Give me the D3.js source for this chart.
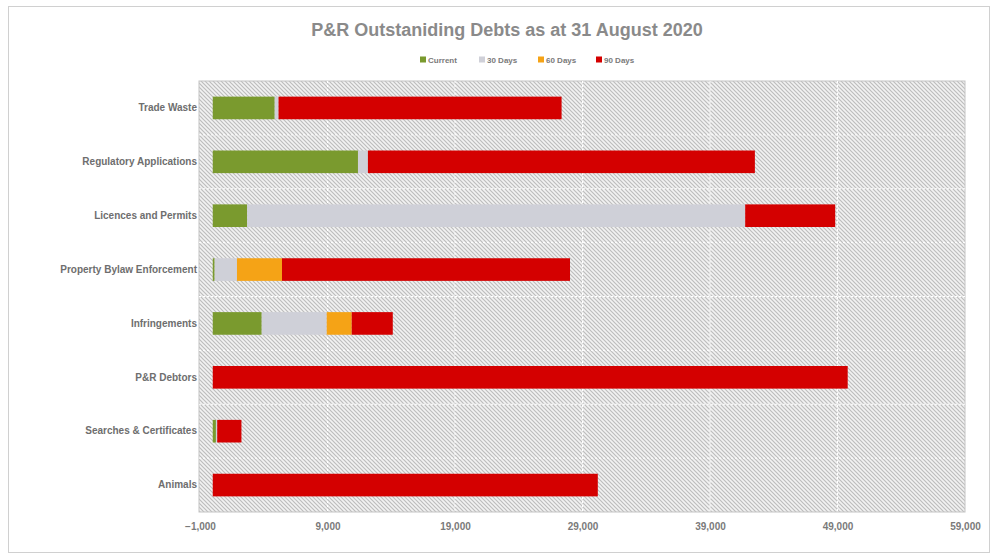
<!DOCTYPE html>
<html>
<head>
<meta charset="utf-8">
<script src="https://cdn.jsdelivr.net/npm/d3@7"></script>
<style>
  html, body { margin: 0; padding: 0; background: #fff; }
  svg { display: block; font-family: "Liberation Sans", "DejaVu Sans", sans-serif; }
</style>
</head>
<body>
<svg id="chart" width="995" height="560"></svg>
<script>
// Debtor categories, listed top to bottom
const categories = [
  "Trade Waste",
  "Regulatory Applications",
  "Licences and Permits",
  "Property Bylaw Enforcement",
  "Infringements",
  "P&R Debtors",
  "Searches & Certificates",
  "Animals"
];

// Outstanding amounts by ageing bucket
const current = [4860, 11390, 2700, 150, 3840, 0, 250, 0];
const days30  = [300, 780, 39060, 1750, 5100, 0, 100, 0];
const days60  = [0, 0, 0, 3530, 1960, 0, 0, 0];
const days90  = [22200, 30350, 7060, 22590, 3220, 49800, 1900, 30200];

const seriesNames = ["Current", "30 Days", "60 Days", "90 Days"];
const seriesColors = ["#7a9a2e", "#cfd0d8", "#f5a316", "#d40000"];

const tickValues = [-1000, 9000, 19000, 29000, 39000, 49000, 59000];
const titleText = "P&R Outstaniding Debts as at 31 August 2020";

const svg = d3.select("#chart");
const plot = { left: 199, right: 965, top: 81, bottom: 512 };

// outer chart frame
svg.append("rect")
  .attr("x", 8.5).attr("y", 6.5).attr("width", 981).attr("height", 546)
  .attr("fill", "#fff").attr("stroke", "#d0d0d0").attr("stroke-width", 1);

// hatched plot-area fill
const defs = svg.append("defs");
const pat = defs.append("pattern")
  .attr("id", "hatch").attr("patternUnits", "userSpaceOnUse")
  .attr("width", 4).attr("height", 4);
pat.append("rect").attr("width", 4).attr("height", 4).attr("fill", "#f2f2f2");
pat.append("path")
  .attr("d", "M-1,-1 L5,5 M-1,3 L1,5 M3,-1 L5,1")
  .attr("stroke", "#bdbdbd").attr("stroke-width", 1.2);

const x = d3.scaleLinear()
  .domain([tickValues[0], tickValues[tickValues.length - 1]])
  .range([plot.left + 1, plot.right]);

const y = d3.scaleBand()
  .domain(categories)
  .range([plot.top, plot.bottom])
  .paddingInner(0.58).paddingOuter(0.29);

svg.append("rect")
  .attr("x", plot.left).attr("y", plot.top)
  .attr("width", plot.right - plot.left).attr("height", plot.bottom - plot.top)
  .attr("fill", "url(#hatch)").attr("stroke", "#c4c4c4");

// gridlines
const step = (plot.bottom - plot.top) / categories.length;
svg.append("g").selectAll("line.h")
  .data(d3.range(1, categories.length))
  .join("line")
  .attr("x1", plot.left).attr("x2", plot.right)
  .attr("y1", i => plot.top + i * step).attr("y2", i => plot.top + i * step)
  .attr("stroke", "#ffffff").attr("stroke-width", 1).attr("stroke-dasharray", "2,2");

svg.append("g").selectAll("line.v")
  .data(tickValues.slice(1, -1))
  .join("line")
  .attr("x1", d => x(d)).attr("x2", d => x(d))
  .attr("y1", plot.top).attr("y2", plot.bottom)
  .attr("stroke", "#ffffff").attr("stroke-width", 1).attr("stroke-dasharray", "2,2");

// stacked bars
const rows = categories.map((c, i) => ({
  category: c,
  "Current": current[i], "30 Days": days30[i], "60 Days": days60[i], "90 Days": days90[i]
}));
const stacked = d3.stack().keys(seriesNames)(rows);

svg.append("g").selectAll("g")
  .data(stacked)
  .join("g")
  .attr("fill", (d, i) => seriesColors[i])
  .selectAll("rect")
  .data(d => d)
  .join("rect")
  .attr("x", d => x(d[0]))
  .attr("y", d => y(d.data.category))
  .attr("width", d => Math.max(0, x(d[1]) - x(d[0])))
  .attr("height", y.bandwidth());

// x axis labels
const xAxis = d3.axisBottom(x).tickValues(tickValues).tickSize(0).tickPadding(0)
  .tickFormat(d3.format(","));
const gx = svg.append("g").attr("transform", `translate(0,${plot.bottom + 11})`).call(xAxis);
gx.select(".domain").remove();
gx.selectAll("text").attr("fill", "#7a7a7a").attr("font-size", 10).attr("font-weight", "bold")
  .attr("font-family", "Liberation Sans Narrow, Liberation Sans, sans-serif");

// category labels
const yAxis = d3.axisLeft(y).tickSize(0).tickPadding(0);
const gy = svg.append("g").attr("transform", `translate(${plot.left - 2},0)`).call(yAxis);
gy.select(".domain").remove();
gy.selectAll("text").attr("fill", "#6e6e6e").attr("font-size", 10).attr("font-weight", "bold")
  .attr("font-family", "Liberation Sans Narrow, Liberation Sans, sans-serif");

// title
svg.append("text")
  .attr("x", 507).attr("y", 36)
  .attr("text-anchor", "middle")
  .attr("font-size", 18).attr("font-weight", "bold").attr("fill", "#8a8a8a")
  .attr("font-family", "Liberation Sans Narrow, Liberation Sans, sans-serif")
  .text(titleText);

// legend
const legendX = [420, 479, 538, 596];
const lg = svg.append("g").selectAll("g")
  .data(seriesNames)
  .join("g")
  .attr("transform", (d, i) => `translate(${legendX[i]},60)`);
lg.append("rect").attr("x", 0).attr("y", -3.5).attr("width", 6).attr("height", 6)
  .attr("fill", (d, i) => seriesColors[i]);
lg.append("text").attr("x", 8).attr("y", 3)
  .attr("font-size", 8).attr("font-weight", "bold").attr("fill", "#7a7a7a")
  .attr("font-family", "Liberation Sans Narrow, Liberation Sans, sans-serif")
  .text(d => d);
</script>
</body>
</html>
